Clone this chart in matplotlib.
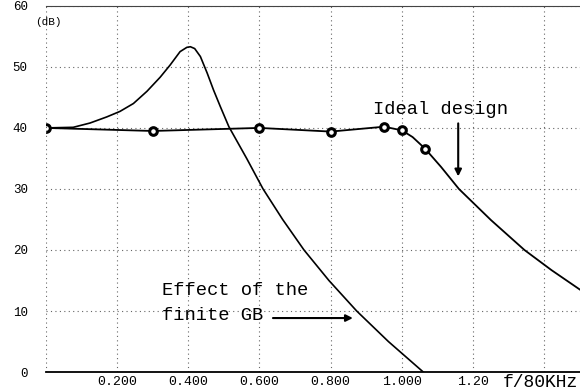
import matplotlib.pyplot as plt

# finite gain-bandwidth response (dB vs f/80kHz)
gb_x = [0, 0.077, 0.124, 0.171, 0.208, 0.246, 0.284, 0.321, 0.349, 0.377, 0.396, 0.406,
        0.418, 0.434, 0.453, 0.471, 0.49, 0.514, 0.564, 0.61, 0.665, 0.725, 0.795,
        0.873, 0.962, 1.06]
gb_y = [40, 40.1, 40.8, 41.8, 42.7, 44.0, 46.0, 48.3, 50.3, 52.5, 53.2, 53.3,
        53.0, 51.7, 49.0, 46.2, 43.5, 40.2, 35, 30, 25, 20, 15,
        10, 5, 0]

# ideal design response
ideal_x = [0, 0.3, 0.6, 0.8, 0.95, 1.0, 1.03, 1.065, 1.11, 1.16, 1.25, 1.344, 1.42, 1.5]
ideal_y = [40, 39.5, 40, 39.4, 40.2, 39.6, 38.5, 36.6, 33.6, 30, 24.9, 20, 16.7, 13.5]
ideal_marks = [0, 1, 2, 3, 4, 5, 7]

xticks = [0.2, 0.4, 0.6, 0.8, 1.0, 1.2, 1.4]
xlabels = ["0.200", "0.400", "0.600", "0.800", "1.000", "1.20", ""]
yticks = [0, 10, 20, 30, 40, 50, 60]

mono = "Liberation Mono"

fig = plt.figure(figsize=(5.8, 3.9), dpi=100)
ax = fig.add_axes([0.079, 0.046, 0.921, 0.939])

ax.plot(gb_x, gb_y, color="black", lw=1.2)
ax.plot(ideal_x, ideal_y, color="black", lw=1.3, marker="o", markevery=ideal_marks,
        ms=5.5, mfc="white", mec="black", mew=2.2)

ax.set_xlim(0, 1.5)
ax.set_ylim(0, 60)
ax.set_xticks(xticks)
ax.set_xticklabels(xlabels, family=mono, fontsize=9.5)
ax.set_yticks(yticks)
ax.set_yticklabels([str(v) for v in yticks], family=mono, fontsize=9)
ax.tick_params(length=0)
ax.tick_params(axis="x", pad=3)
ax.tick_params(axis="y", pad=13)

ax.grid(True, ls=(0, (1, 3)), color="#666666", lw=0.8)
ax.axvline(0, ls=(0, (1, 3)), color="#666666", lw=0.8)
for s in ["left", "right"]:
    ax.spines[s].set_visible(False)
ax.spines["bottom"].set_linewidth(1.3)
ax.spines["top"].set_linestyle((0, (8, 1)))
ax.spines["top"].set_color("#444444")

ax.text(-0.03, 56.8, "(dB)", family=mono, fontsize=8)
ax.text(1.494, -1.7, "f/80KHz", family=mono, fontsize=13, ha="right", va="center",
        clip_on=False)

ax.text(0.92, 42.3, "Ideal design", family=mono, fontsize=13.5)
ax.annotate("", xy=(1.158, 31.6), xytext=(1.158, 41.2),
            arrowprops=dict(arrowstyle="-|>", color="black", lw=1.5, mutation_scale=10))

ax.text(0.327, 12.7, "Effect of the", family=mono, fontsize=13.5)
ax.text(0.327, 8.6, "finite GB", family=mono, fontsize=13.5)
ax.annotate("", xy=(0.87, 8.85), xytext=(0.63, 8.85),
            arrowprops=dict(arrowstyle="-|>", color="black", lw=1.5, mutation_scale=10))

fig.savefig("out.png", dpi=100)
